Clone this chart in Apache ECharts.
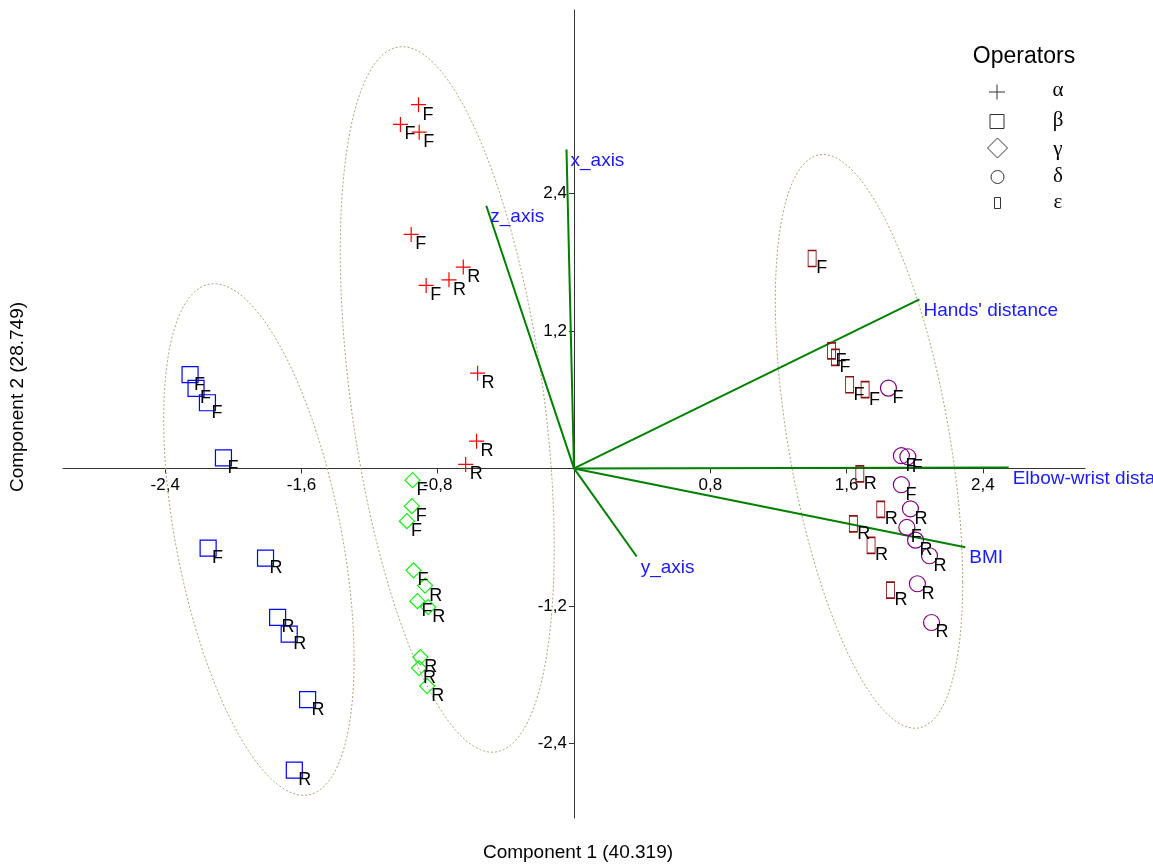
<!DOCTYPE html>
<html><head><meta charset="utf-8">
<script src="https://cdn.jsdelivr.net/npm/echarts@6/dist/echarts.min.js"></script>
<style>html,body{margin:0;padding:0;background:#fff}#c{width:1153px;height:864px}</style>
</head><body><div id="c"></div>
<script>
// ---- tick values and labels ----
const xTickValues = [-2.4, -1.6, -0.8, 0.8, 1.6, 2.4];
const xTickLabels = ['-2,4', '-1,6', '-0,8', '0,8', '1,6', '2,4'];
const yTickValues = [-2.4, -1.2, 1.2, 2.4];
const yTickLabels = ['-2,4', '-1,2', '1,2', '2,4'];

// ---- operators: [component1, component2, label] ----
const alpha = [[-0.913,3.174,'F'],[-1.019,3.002,'F'],[-0.909,2.934,'F'],[-0.956,2.042,'F'],[-0.868,1.597,'F'],
               [-0.734,1.646,'R'],[-0.650,1.757,'R'],[-0.566,0.831,'R'],[-0.572,0.238,'R'],[-0.636,0.035,'R']];
const beta = [[-2.254,0.818,'F'],[-2.219,0.698,'F'],[-2.152,0.573,'F'],[-2.058,0.093,'F'],[-2.148,-0.695,'F'],
              [-1.811,-0.783,'R'],[-1.740,-1.300,'R'],[-1.672,-1.446,'R'],[-1.564,-2.018,'R'],[-1.642,-2.633,'R']];
const gamma = [[-0.948,-0.102,'F'],[-0.952,-0.329,'F'],[-0.981,-0.460,'F'],[-0.942,-0.889,'F'],[-0.874,-1.022,'R'],
               [-0.919,-1.158,'F'],[-0.856,-1.210,'R'],[-0.902,-1.646,'R'],[-0.910,-1.742,'R'],[-0.862,-1.899,'R']];
const delta = [[1.846,0.701,'F'],[1.922,0.111,'F'],[1.960,0.102,'F'],[1.922,-0.142,'F'],[1.975,-0.352,'R'],
               [1.954,-0.515,'F'],[2.005,-0.626,'R'],[2.087,-0.762,'R'],[2.016,-1.006,'R'],[2.099,-1.344,'R']];
const epsilon = [[1.398,1.832,'F'],[1.512,1.025,'F'],[1.535,0.969,'F'],[1.618,0.730,'F'],[1.709,0.687,'F'],
                 [1.678,-0.048,'R'],[1.801,-0.358,'R'],[1.640,-0.483,'R'],[1.744,-0.672,'R'],[1.858,-1.062,'R']];

// ---- loading vectors ----
const vectorNames = ['x_axis', 'z_axis', 'y_axis', "Hands' distance", 'Elbow-wrist distance', 'BMI'];
const vectorX = [-0.044, -0.515, 0.368, 2.028, 2.552, 2.297];
const vectorY = [2.784, 2.292, -0.768, 1.475, 0.009, -0.687];

// ---- group ellipses: [centerX, centerY, spreadX, spreadY, correlation] ----
const ellipses = [[-1.850,-0.620,0.559,2.232,-0.47],
                  [-0.744,0.602,0.628,3.078,-0.42],
                  [1.732,0.236,0.55,2.503,-0.49]];

const legendNames = ['α', 'β', 'γ', 'δ', 'ε'];

const X_MIN = -3, X_MAX = 3, Y_MIN = -3.05, Y_MAX = 4.0;
const GRID = { left: 63, right: 68, top: 10, bottom: 46 };
const W = 1153, H = 864;
const gridW = W - GRID.left - GRID.right, gridH = H - GRID.top - GRID.bottom;
// shift the axes so they cross at the origin
const xAxisOffset = -(gridH * (0 - Y_MIN) / (Y_MAX - Y_MIN));
const yAxisOffset = -(gridW * (0 - X_MIN) / (X_MAX - X_MIN));

const FONT = '"Liberation Sans", Arial, sans-serif';
function tickLabel(vals, labs) {
  return v => { for (let i = 0; i < vals.length; i++) if (Math.abs(vals[i] - v) < 1e-6) return labs[i]; return ''; };
}
function pointSeries(name, arr, symbol, size, color) {
  return {
    type: 'scatter', name, symbol, symbolSize: size, z: 5,
    data: arr.map(d => [d[0], d[1]]),
    itemStyle: { color: 'rgba(0,0,0,0)', borderColor: color, borderWidth: 1.2, opacity: 1 },
    label: {
      show: true, position: 'inside', align: 'left', verticalAlign: 'top', offset: [4, 1],
      formatter: p => arr[p.dataIndex][2], color: '#000', fontSize: 18, fontFamily: FONT
    },
    emphasis: { disabled: true }, silent: true
  };
}
const plusPath = 'path://M0,7L14,7M7,0L7,14';

const chart = echarts.init(document.getElementById('c'));
chart.setOption({
  animation: false,
  backgroundColor: '#fff',
  grid: GRID,
  xAxis: {
    type: 'value', min: X_MIN, max: X_MAX, position: 'bottom', offset: xAxisOffset,
    axisLine: { onZero: false, lineStyle: { color: '#333', width: 1 } },
    axisTick: { show: true, length: 5, customValues: xTickValues, lineStyle: { color: '#333' } },
    axisLabel: { customValues: xTickValues, formatter: tickLabel(xTickValues, xTickLabels), fontSize: 17, color: '#000', margin: 8, fontFamily: FONT },
    splitLine: { show: false }
  },
  yAxis: {
    type: 'value', min: Y_MIN, max: Y_MAX, position: 'left', offset: yAxisOffset,
    axisLine: { onZero: false, lineStyle: { color: '#333', width: 1 } },
    axisTick: { show: true, length: 5, customValues: yTickValues, lineStyle: { color: '#333' } },
    axisLabel: { customValues: yTickValues, formatter: tickLabel(yTickValues, yTickLabels), fontSize: 17, color: '#000', margin: 7, fontFamily: FONT },
    splitLine: { show: false }
  },
  series: [
    {
      type: 'custom', z: 1, silent: true, clip: false,
      data: ellipses,
      renderItem: (params, api) => {
        const cx = api.value(0), cy = api.value(1), sx = api.value(2), sy = api.value(3), r = api.value(4);
        const pts = [];
        const n = 160;
        for (let i = 0; i < n; i++) {
          const t = 2 * Math.PI * i / n;
          pts.push(api.coord([cx + sx * Math.cos(t), cy + sy * (r * Math.cos(t) + Math.sqrt(1 - r * r) * Math.sin(t))]));
        }
        return { type: 'polygon', shape: { points: pts }, style: { fill: 'none', stroke: '#b0a27a', lineWidth: 1, lineDash: [2, 2] } };
      }
    },
    {
      type: 'custom', z: 2, silent: true, clip: false,
      data: vectorX.map((x, i) => [x, vectorY[i], i]),
      renderItem: (params, api) => {
        const p0 = api.coord([0, 0]);
        const p1 = api.coord([api.value(0), api.value(1)]);
        const name = vectorNames[api.value(2)];
        return {
          type: 'group', children: [
            { type: 'line', shape: { x1: p0[0], y1: p0[1], x2: p1[0], y2: p1[1] }, style: { stroke: '#008000', lineWidth: 2 } },
            { type: 'text', x: p1[0] + 4, y: p1[1] + 11, style: { text: name, fill: '#1a1aff', font: '19px ' + FONT, align: 'left', verticalAlign: 'middle' } }
          ]
        };
      }
    },
    pointSeries('α', alpha, plusPath, 15, '#ff0000'),
    pointSeries('β', beta, 'rect', 16, '#0000ff'),
    pointSeries('γ', gamma, 'diamond', 15, '#11ee11'),
    pointSeries('δ', delta, 'circle', 16, '#800080'),
    pointSeries('ε', epsilon, 'rect', [8, 16], '#8b1010')
  ],
  graphic: [
    { type: 'text', x: 578, y: 853, style: { text: 'Component 1 (40.319)', font: '19px ' + FONT, fill: '#000', align: 'center', verticalAlign: 'middle' } },
    { type: 'text', x: 18, y: 397, rotation: Math.PI / 2, style: { text: 'Component 2 (28.749)', font: '19px ' + FONT, fill: '#000', align: 'center', verticalAlign: 'middle' } },
    { type: 'text', x: 1024, y: 57, style: { text: 'Operators', font: '23px ' + FONT, fill: '#000', align: 'center', verticalAlign: 'middle' } },
    { type: 'group', x: 997, y: 92, children: [
      { type: 'line', shape: { x1: -8, y1: 0, x2: 8, y2: 0 }, style: { stroke: '#333', lineWidth: 1 } },
      { type: 'line', shape: { x1: 0, y1: -7.5, x2: 0, y2: 7.5 }, style: { stroke: '#333', lineWidth: 1 } } ] },
    { type: 'rect', shape: { x: 990, y: 114.5, width: 14, height: 14 }, style: { fill: 'none', stroke: '#333', lineWidth: 1 } },
    { type: 'polygon', shape: { points: [[997.5, 138], [1007.5, 148], [997.5, 158], [987.5, 148]] }, style: { fill: 'none', stroke: '#333', lineWidth: 1 } },
    { type: 'circle', shape: { cx: 997.5, cy: 177, r: 6.5 }, style: { fill: 'none', stroke: '#333', lineWidth: 1 } },
    { type: 'rect', shape: { x: 994.5, y: 197.5, width: 6, height: 11 }, style: { fill: 'none', stroke: '#333', lineWidth: 1 } },
    { type: 'text', x: 1058, y: 90, style: { text: legendNames[0], font: '21px "Liberation Serif", serif', fill: '#000', align: 'center', verticalAlign: 'middle' } },
    { type: 'text', x: 1058, y: 120, style: { text: legendNames[1], font: '21px "Liberation Serif", serif', fill: '#000', align: 'center', verticalAlign: 'middle' } },
    { type: 'text', x: 1058, y: 149, style: { text: legendNames[2], font: '21px "Liberation Serif", serif', fill: '#000', align: 'center', verticalAlign: 'middle' } },
    { type: 'text', x: 1058, y: 176, style: { text: legendNames[3], font: '21px "Liberation Serif", serif', fill: '#000', align: 'center', verticalAlign: 'middle' } },
    { type: 'text', x: 1058, y: 202, style: { text: legendNames[4], font: '21px "Liberation Serif", serif', fill: '#000', align: 'center', verticalAlign: 'middle' } }
  ]
});
</script>
</body></html>
